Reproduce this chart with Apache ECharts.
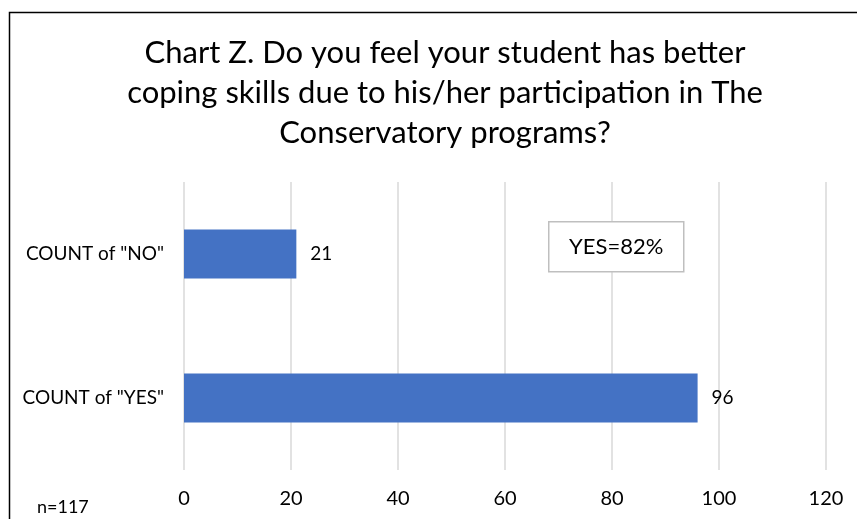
<!DOCTYPE html>
<html>
<head>
<meta charset="utf-8">
<script src="https://cdn.jsdelivr.net/npm/echarts@6/dist/echarts.min.js"></script>
<style>
  html, body { margin: 0; padding: 0; background: #fff; }
  #chart { width: 857px; height: 519px; }
</style>
</head>
<body>
<div id="chart"></div>
<script>
// Survey answers counted per response
const categories = ['COUNT of "NO"', 'COUNT of "YES"'];
const counts = [21, 96];
const xTicks = [0, 20, 40, 60, 80, 100, 120];
const titleText = 'Chart Z. Do you feel your student has better\ncoping skills due to his/her participation in The\nConservatory programs?';
const noteText = 'YES=82%';
const sampleText = 'n=117';

const FONT = 'Lato, "Open Sans", sans-serif';

const chart = echarts.init(document.getElementById('chart'), null, { renderer: 'canvas' });

chart.setOption({
  backgroundColor: '#ffffff',
  animation: false,
  textStyle: { fontFamily: FONT },
  title: {
    text: titleText,
    left: 440,
    top: 28,
    textAlign: 'center',
    textStyle: {
      fontFamily: FONT,
      fontSize: 31,
      fontWeight: 'normal',
      color: '#000',
      lineHeight: 40
    }
  },
  grid: { left: 184, right: 31, top: 182, bottom: 49, containLabel: false },
  xAxis: {
    type: 'value',
    min: xTicks[0],
    max: xTicks[xTicks.length - 1],
    interval: xTicks[1] - xTicks[0],
    axisLine: { show: false },
    axisTick: { show: false },
    splitLine: { show: true, lineStyle: { color: '#d9d9d9', width: 1.5 } },
    axisLabel: { color: '#000', fontSize: 20, margin: 19, fontFamily: FONT }
  },
  yAxis: {
    type: 'category',
    data: categories,
    inverse: true,
    axisLine: { show: false },
    axisTick: { show: false },
    axisLabel: { color: '#000', fontSize: 19, margin: 20, fontFamily: FONT }
  },
  series: [{
    type: 'bar',
    data: counts,
    barCategoryGap: '66%',
    itemStyle: { color: '#4472c4' },
    label: {
      show: true,
      position: 'right',
      distance: 14,
      color: '#000',
      fontSize: 19,
      fontFamily: FONT
    }
  }],
  graphic: [
    {
      type: 'rect',
      z: 100,
      shape: { x: 9.5, y: 12.5, width: 900, height: 600 },
      style: { fill: 'none', stroke: '#000', lineWidth: 1.5 },
      silent: true
    },
    {
      // annotation box sits above the grid lines
      type: 'group',
      left: 548,
      top: 221,
      z: 100,
      children: [
        {
          type: 'rect',
          z: 100,
          shape: { x: 0, y: 0, width: 135, height: 50 },
          style: { fill: '#fff', stroke: '#bfbfbf', lineWidth: 1.5 }
        },
        {
          type: 'text',
          z: 101,
          x: 67.5,
          y: 25,
          style: {
            text: noteText,
            fontFamily: FONT,
            fontSize: 22,
            fill: '#000',
            align: 'center',
            verticalAlign: 'middle'
          }
        }
      ]
    },
    {
      type: 'text',
      left: 37,
      top: 498,
      z: 100,
      style: { text: sampleText, fontFamily: FONT, fontSize: 18, fill: '#000' }
    }
  ]
});
</script>
</body>
</html>
